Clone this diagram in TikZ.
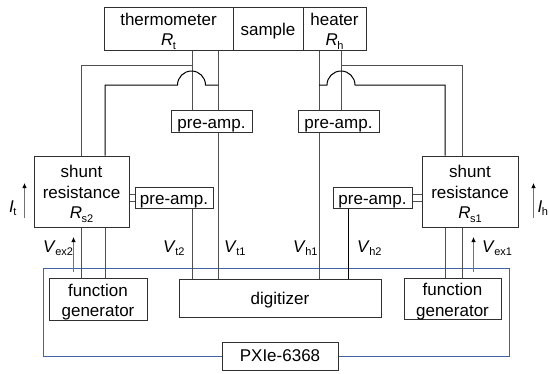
\documentclass[tikz,border=0pt]{standalone}
\usepackage{fontspec}
\setmainfont{Liberation Sans}
\usetikzlibrary{arrows.meta}
\definecolor{wiregray}{HTML}{505050}
\definecolor{boxgray}{HTML}{303030}
\definecolor{pxblue}{HTML}{3F64A5}
\newcommand{\qty}[2]{\textit{#1}\kern-.5pt\raisebox{-3.5pt}{\fontsize{11}{12}\selectfont #2}}
\newcommand{\dn}{\rule{0pt}{17.5pt}}
\tikzset{
  box/.style={draw=boxgray,line width=1pt,inner sep=0pt,align=center,font=\fontsize{17}{20.5}\selectfont},
  wire/.style={draw=wiregray,line width=1pt},
  thin wire/.style={draw=black,line width=1pt},
  pair wire/.style={draw=wiregray,line width=0.8pt},
  bus/.style={draw=pxblue,line width=0.8pt},
  current/.style={draw=black!55,line width=0.8pt,-{Latex[black,length=5pt,width=4.5pt]}},
  lab/.style={anchor=base west,inner sep=0pt,font=\fontsize{17}{20}\selectfont}
}
\begin{document}
\begin{tikzpicture}[x=1pt,y=-1pt]
\useasboundingbox (0,0) rectangle (549,373);
% boxes
\node[box,minimum width=129pt,minimum height=43pt] (thermo) at (168.5,28.5) {\dn thermometer\\\qty{R}{t}};
\node[box,minimum width=70pt,minimum height=43pt] (sample) at (268,28.5) {\dn sample};
\node[box,minimum width=63pt,minimum height=43pt] (heater) at (334.5,28.5) {\dn heater\\\qty{R}{h}};
\node[box,minimum width=81pt,minimum height=19pt] (preT) at (211.5,121.5) {\dn pre-amp.};
\node[box,minimum width=81pt,minimum height=19pt] (preH) at (338.5,121.5) {\dn pre-amp.};
\node[box,minimum width=95pt,minimum height=71pt] (shuntL) at (81.5,191.5) {\dn shunt\\resistance\\\qty{R}{s2}};
\node[box,minimum width=96pt,minimum height=71pt] (shuntR) at (470,191.5) {\dn shunt\\resistance\\\qty{R}{s1}};
\node[box,minimum width=78pt,minimum height=20pt] (preL) at (174,198) {\dn pre-amp.};
\node[box,minimum width=79pt,minimum height=20pt] (preR) at (372.5,198) {\dn pre-amp.};
\node[box,minimum width=98pt,minimum height=41pt] (fgL) at (98,299.5) {\dn function\\generator};
\node[box,minimum width=97pt,minimum height=40pt] (fgR) at (452.5,299) {\dn function\\generator};
\node[box,minimum width=202pt,minimum height=38pt] (dig) at (280,298) {\dn digitizer};
\node[box,minimum width=116pt,minimum height=28pt] (px) at (280,356) {PXIe-6368};
% tap positions
\coordinate (xa) at (192,0);
\coordinate (xb) at (218,0);
\coordinate (xc) at (319,0);
\coordinate (xd) at (341,0);
\coordinate (xe) at (81,0);
\coordinate (xf) at (105,0);
\coordinate (xg) at (445,0);
\coordinate (xh) at (462,0);
\coordinate (xi) at (348.5,0);
\coordinate (yu) at (0,65);
\coordinate (yl) at (0,85);
\coordinate (ya) at (0,194.5);
\coordinate (yb) at (0,201);
\coordinate (bl) at (43.5,268);
\coordinate (br) at (509,268);
% PXIe bus
\draw[bus] (px.west) -- (bl |- px.west) -- (bl) -- (br) -- (br |- px.east) -- (px.east);
% sample to pre-amp and digitizer
\draw[wire] (thermo.south -| xa) -- (preT.north -| xa);
\draw[wire] (thermo.south -| xb) -- (preT.north -| xb);
\draw[wire] (heater.south -| xc) -- (preH.north -| xc);
\draw[wire] (heater.south -| xd) -- (preH.north -| xd);
\draw[wire] (preT.south -| xb) -- (dig.north -| xb);
\draw[wire] (preH.south -| xc) -- (dig.north -| xc);
\draw[wire] (preL.south -| xa) -- (dig.north -| xa);
\draw[thin wire] (preR.south -| xi) -- (dig.north -| xi);
% shunt to sample
\draw[wire] (shuntL.north -| xe) -- (xe |- yu) -- (xa |- yu);
\draw[wire] (shuntR.north -| xh) -- (xh |- yu) -- (xd |- yu);
\draw[thin wire] (shuntL.north -| xf) -- (xf |- yl) -- (177.5,85) arc[start angle=180,end angle=360,radius=14] -- (xb |- yl);
\draw[thin wire] (shuntR.north -| xg) -- (xg |- yl) -- (355,85) arc[start angle=360,end angle=180,radius=14] -- (xc |- yl);
% shunt to pre-amp
\draw[pair wire] (shuntL.east |- ya) -- (preL.west |- ya);
\draw[pair wire] (shuntL.east |- yb) -- (preL.west |- yb);
\draw[pair wire] (shuntR.west |- ya) -- (preR.east |- ya);
\draw[pair wire] (shuntR.west |- yb) -- (preR.east |- yb);
% shunt to function generator
\draw[wire] (shuntL.south -| xe) -- (fgL.north -| xe);
\draw[wire] (shuntL.south -| xf) -- (fgL.north -| xf);
\draw[wire] (shuntR.south -| xg) -- (fgR.north -| xg);
\draw[wire] (shuntR.south -| xh) -- (fgR.north -| xh);
% current / voltage arrows
\coordinate (a1s) at (73.5,272); \coordinate (a1e) at (73.5,237);
\coordinate (a2s) at (473.5,272); \coordinate (a2e) at (473.5,237);
\coordinate (a3s) at (24.5,218); \coordinate (a3e) at (24.5,183);
\coordinate (a4s) at (533.5,218); \coordinate (a4e) at (533.5,183);
\draw[current] (a1s) -- (a1e);
\draw[current] (a2s) -- (a2e);
\draw[current] (a3s) -- (a3e);
\draw[current] (a4s) -- (a4e);
% labels
\node[lab] (lVex2) at (43,252) {\qty{V}{ex2}};
\node[lab] (lVt2) at (163,252) {\qty{V}{t2}};
\node[lab] (lVt1) at (224,252) {\qty{V}{t1}};
\node[lab] (lVh1) at (293,252) {\qty{V}{h1}};
\node[lab] (lVh2) at (357,252) {\qty{V}{h2}};
\node[lab] (lVex1) at (482,252) {\qty{V}{ex1}};
\node[lab] (lIt) at (9,212) {\qty{I}{t}};
\node[lab] (lIh) at (537.5,212) {\qty{I}{h}};
\end{tikzpicture}
\end{document}
